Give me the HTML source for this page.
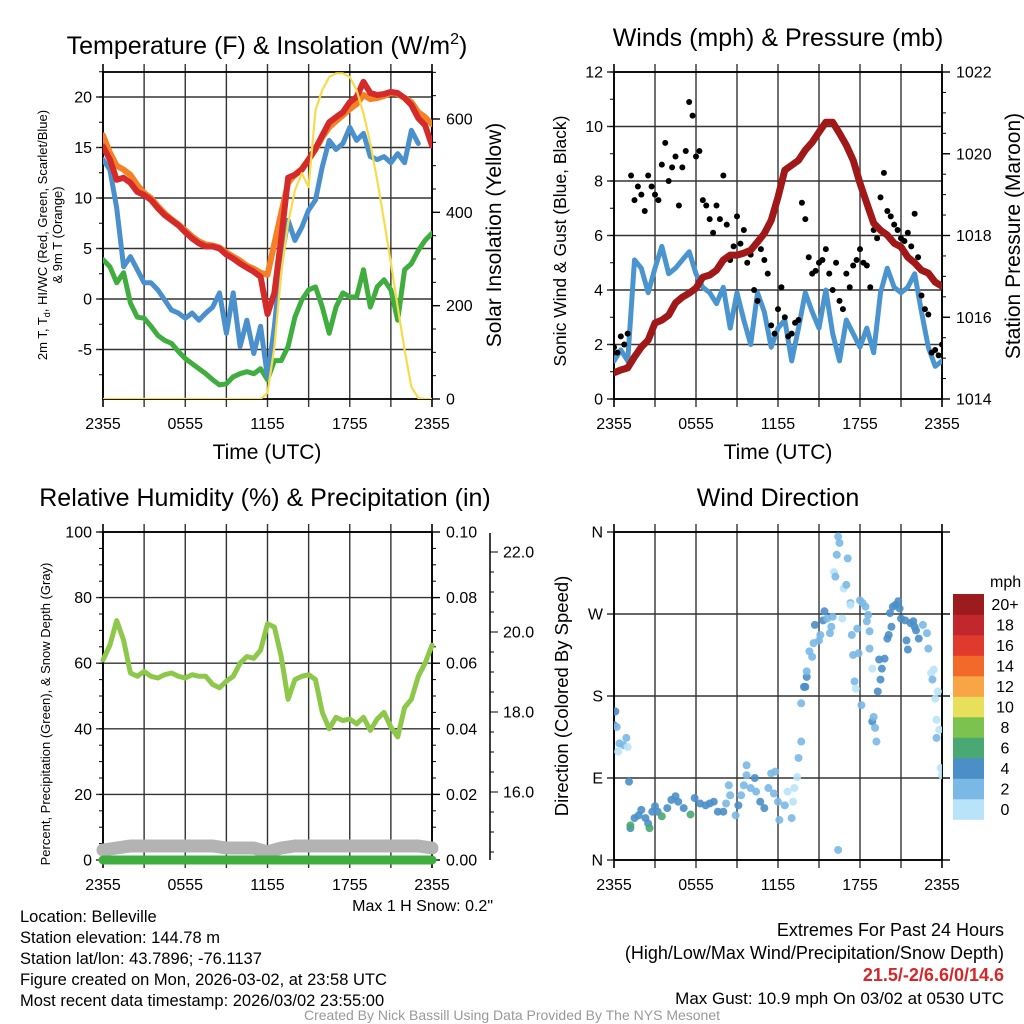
<!DOCTYPE html>
<html><head><meta charset="utf-8">
<style>
body{margin:0;background:#fff;width:1024px;height:1024px;overflow:hidden}
svg{display:block;font-family:"Liberation Sans",Arial,sans-serif}
.t{font-size:16px;fill:#000}
.b{font-size:16.5px;fill:#000}
</style></head><body>
<svg id="c" width="1024" height="1024" viewBox="0 0 1024 1024">
<defs>
<clipPath id="cp1"><rect x="103" y="72" width="329" height="327"/></clipPath>
<clipPath id="cp2"><rect x="614" y="72" width="328" height="327"/></clipPath>
<clipPath id="cp3"><rect x="90" y="532" width="350" height="340"/></clipPath>
<clipPath id="cp4"><rect x="614" y="525" width="328" height="340"/></clipPath>
</defs>
<text x="267" y="54" font-size="25" text-anchor="middle">Temperature (F) &amp; Insolation (W/m<tspan font-size="16" dy="-10">2</tspan><tspan dy="10">)</tspan></text>
<text x="778" y="46" font-size="25" text-anchor="middle">Winds (mph) &amp; Pressure (mb)</text>
<text x="265" y="506" font-size="25" text-anchor="middle">Relative Humidity (%) &amp; Precipitation (in)</text>
<text x="778" y="506" font-size="25" text-anchor="middle">Wind Direction</text>
<text x="267" y="459" font-size="21" text-anchor="middle">Time (UTC)</text>
<text x="778" y="459" font-size="21" text-anchor="middle">Time (UTC)</text>
<g transform="translate(47,235) rotate(-90)">
<text x="0" y="0" font-size="13" text-anchor="middle">2m T, T<tspan font-size="9" dy="3">d</tspan><tspan dy="-3">, HI/WC (Red, Green, Scarlet/Blue)</tspan></text>
<text x="0" y="15" font-size="13" text-anchor="middle">&amp; 9m T (Orange)</text>
</g>
<text transform="translate(501,235) rotate(-90)" font-size="21" text-anchor="middle">Solar Insolation (Yellow)</text>
<text transform="translate(566,241) rotate(-90)" font-size="17.5" text-anchor="middle">Sonic Wind &amp; Gust (Blue, Black)</text>
<text transform="translate(1020,236) rotate(-90)" font-size="21" text-anchor="middle">Station Pressure (Maroon)</text>
<text transform="translate(50,714) rotate(-90)" font-size="13" text-anchor="middle">Percent, Precipitation (Green), &amp; Snow Depth (Gray)</text>
<text transform="translate(568,696) rotate(-90)" font-size="18.5" text-anchor="middle">Direction (Colored By Speed)</text>
<text x="493" y="911" class="t" text-anchor="end">Max 1 H Snow: 0.2"</text>
<g>
<text x="20" y="922" class="b">Location: Belleville</text>
<text x="20" y="943" class="b">Station elevation: 144.78 m</text>
<text x="20" y="964" class="b">Station lat/lon: 43.7896; -76.1137</text>
<text x="20" y="985" class="b">Figure created on Mon, 2026-03-02, at 23:58 UTC</text>
<text x="20" y="1006" class="b">Most recent data timestamp: 2026/03/02 23:55:00</text>
</g>
<text x="1004" y="936" font-size="18" text-anchor="end">Extremes For Past 24 Hours</text>
<text x="1004" y="959" font-size="18" text-anchor="end">(High/Low/Max Wind/Precipitation/Snow Depth)</text>
<text x="1004" y="981" font-size="18" font-weight="bold" fill="#d62728" text-anchor="end">21.5/-2/6.6/0/14.6</text>
<text x="1004" y="1004" font-size="17" text-anchor="end">Max Gust: 10.9 mph On 03/02 at 0530 UTC</text>
<text x="512" y="1020" font-size="14" fill="#999" text-anchor="middle">Created By Nick Bassill Using Data Provided By The NYS Mesonet</text>
<text x="990" y="587" class="t">mph</text>
</svg>
<script>
const timeLabels=['2355','0555','1155','1755','2355'];
const temp2m=[15.1,13.8,11.8,12.0,11.5,10.6,10.3,9.8,9.0,8.3,7.8,7.3,6.6,6.0,5.5,5.2,5.2,5.0,4.4,4.0,3.5,3.1,2.7,2.2,-1.5,0.6,6.0,12.0,12.3,12.8,13.8,14.9,16.2,17.5,18.0,18.5,19.5,20.0,21.5,20.4,20.2,20.3,20.5,20.4,19.9,19.2,17.9,17.2,15.2];
const temp9m=[16.2,14.5,13.2,12.8,12.3,11.3,10.5,10.0,9.2,8.5,7.9,7.4,6.8,6.2,5.7,5.4,5.3,5.1,4.6,4.2,3.8,3.3,3.0,2.6,2.4,5.5,8.5,11.5,12.3,12.9,13.8,14.8,16.0,17.0,17.6,18.2,18.8,19.3,20.2,19.8,19.9,20.1,20.4,20.3,19.9,19.5,18.5,18.0,17.3];
const heatWindChill=[13.8,12.8,9.0,3.2,4.2,2.9,1.6,1.6,0.9,-0.1,-1.1,-1.4,-1.9,-1.4,-2.1,-1.4,-0.8,0.6,-3.4,0.6,-4.7,-2.1,-5.4,-2.7,-7.7,-2.7,3.9,7.8,5.8,7.1,8.8,9.8,13.1,15.7,14.8,15.4,17.0,15.7,16.4,14.1,13.8,14.1,13.5,14.4,13.5,16.7,15.4];
const dewpoint=[3.9,3.2,1.6,2.6,-0.4,-1.8,-1.9,-2.7,-3.6,-4.1,-4.4,-5.2,-5.9,-6.4,-6.9,-7.4,-8.0,-8.5,-8.4,-7.7,-7.4,-7.2,-7.4,-6.9,-8.0,-6.1,-6.1,-4.7,-1.8,-0.1,0.9,1.2,-0.8,-3.4,-0.8,0.6,0.2,0.2,2.9,-0.8,1.2,1.9,0.9,-2.1,2.9,3.5,4.8,5.8,6.5];
const insolation=[0,0,0,0,0,0,0,0,0,0,0,0,0,0,0,0,0,0,0,0,0,0,0,0,13,111,270,377,447,484,454,619,662,690,698,698,690,662,612,548,469,383,291,197,105,26,2,0,0];
const windSpeed=[1.4,1.8,1.4,5.1,4.8,3.9,4.8,5.6,4.6,4.8,5.1,5.4,4.6,4.1,3.9,3.5,4.1,2.6,3.9,2.9,2.0,3.9,3.2,1.9,2.6,2.9,1.4,2.6,3.9,3.2,2.6,4.0,2.4,1.4,2.9,2.4,1.9,2.6,1.7,3.9,4.8,4.1,3.9,4.1,4.6,3.2,1.9,1.2,1.4];
const pressure=[1014.64,1014.71,1014.76,1015.03,1015.27,1015.44,1015.86,1015.93,1016.05,1016.35,1016.49,1016.59,1016.71,1016.98,1017.03,1017.15,1017.40,1017.52,1017.52,1017.57,1017.64,1017.84,1018.05,1018.37,1018.94,1019.60,1019.72,1019.84,1020.09,1020.28,1020.53,1020.77,1020.77,1020.50,1020.21,1019.84,1019.28,1018.79,1018.30,1018.13,1018.01,1017.81,1017.72,1017.47,1017.33,1017.15,1017.08,1016.86,1016.76];
const gusts=[1.9,1.7,2.3,2.0,2.4,8.2,7.3,7.8,7.5,6.9,8.2,7.8,7.5,7.3,8.6,9.4,8.0,8.5,8.9,7.1,8.5,9.1,10.9,10.4,8.9,9.1,7.3,7.1,6.6,6.1,7.1,6.6,8.2,6.4,5.1,5.6,6.7,5.7,6.2,5.0,5.3,4.0,3.6,5.5,5.1,4.6,2.7,2.4,3.3,4.1,3.0,2.3,2.4,2.8,2.9,7.2,6.6,5.2,4.6,4.7,5.0,5.1,5.5,4.6,4.0,5.0,3.6,3.3,4.6,4.1,4.9,5.1,5.5,5.0,4.9,4.1,6.2,5.9,7.4,8.3,6.9,6.7,6.4,6.2,5.9,5.8,6.1,5.6,6.8,5.2,3.8,3.3,3.1,1.7,1.8,1.6,2.0];
const relHumidity=[61,65.5,73,67,57,56,57.5,56,55.5,56.5,57,56,55.5,56.5,56,56,53.5,52.5,54.5,56,60,62,61.5,64,72,71,62,49,55,56,56.5,55,45,40,43.5,42.5,43,41.5,43.5,39.5,43,45,40.5,37.5,46.5,49,56,60,65.5];
const precip=[0,0,0,0,0,0,0,0,0,0,0,0,0,0,0,0,0,0,0,0,0,0,0,0,0];
const snowDepth=[14.55,14.6,14.65,14.65,14.65,14.65,14.65,14.65,14.65,14.6,14.6,14.6,14.5,14.6,14.65,14.65,14.65,14.65,14.65,14.65,14.65,14.65,14.65,14.65,14.6];
const dirHour=[0.1,0.0,0.2,0.4,0.3,0.7,0.9,1.0,1.1,1.2,1.2,1.5,1.8,2.0,2.3,2.5,2.6,2.8,3.0,3.2,3.5,3.9,4.2,4.5,4.7,5.1,5.6,5.9,6.3,6.7,7.0,7.3,7.6,8.0,8.2,8.4,8.5,8.9,9.1,9.3,9.5,9.7,9.7,10.0,10.3,10.4,10.7,11.0,11.3,11.5,11.8,11.7,12.0,12.1,12.5,12.7,13.0,13.1,13.2,13.4,13.5,13.7,13.7,13.9,14.0,14.1,14.1,14.3,14.5,14.6,14.7,15.0,15.1,15.3,15.4,15.6,15.8,15.9,16.0,16.1,16.2,16.3,16.4,16.5,16.8,17.0,16.7,17.1,17.3,17.3,17.4,17.5,17.6,17.7,17.8,17.9,18.0,18.1,18.2,18.4,18.5,18.6,18.7,18.7,18.9,18.9,19.0,19.1,19.2,19.3,19.4,19.5,19.6,19.8,20.0,20.1,20.2,20.3,20.4,20.6,20.8,20.9,21.0,21.3,21.4,21.5,21.7,21.9,22.0,22.1,22.3,22.6,22.9,23.0,23.2,23.3,23.4,23.5,23.6,23.7,23.6,23.8,23.9,24.0,16.4];
const dirDeg=[163,148,146,128,119,126,134,124,86,35,38,46,49,55,46,40,35,53,59,53,48,57,66,70,64,57,50,68,62,60,62,64,53,53,62,82,71,49,60,71,82,104,93,79,90,75,64,57,79,95,97,73,64,44,60,75,46,64,79,91,112,130,172,190,190,201,207,229,223,238,258,241,247,263,273,265,249,256,267,316,311,335,355,348,298,302,265,331,282,280,247,225,196,188,254,227,285,170,282,278,262,269,251,232,210,152,157,145,130,185,220,198,210,221,243,247,271,256,278,280,284,276,265,263,241,231,260,262,256,252,243,258,249,232,205,198,209,177,154,185,134,143,101,93,11];
const dirSpeed=[5,5,3,3,1,3,3,1,5,5,7,5,5,5,5,5,7,5,5,5,7,5,5,5,5,5,7,5,5,5,5,5,5,5,3,3,3,3,5,3,3,3,3,3,5,3,5,5,3,3,3,3,3,3,3,1,3,1,1,1,3,3,3,5,5,5,3,3,3,3,5,3,3,5,5,3,3,3,3,1,3,3,3,3,1,3,1,3,3,1,3,3,3,1,3,3,3,3,3,3,3,3,3,3,1,5,3,3,3,5,5,5,5,5,5,5,5,5,5,5,5,5,5,5,5,5,5,5,5,5,5,3,3,3,1,3,1,1,1,1,3,1,1,1,3];
const speedLabels=['0','2','4','6','8','10','12','14','16','18','20+'];
const speedColors=['#b9e3f9','#7ab8e6','#4a8fc8','#4aa872','#7cc24e','#e8e05a','#f7a545','#f26a2a','#e03a2f','#c1272d','#9b1b1e'];

const NS='http://www.w3.org/2000/svg';
const svg=document.getElementById('c');
function mk(tag,a,parent){const e=document.createElementNS(NS,tag);for(const k in a)e.setAttribute(k,a[k]);(parent||svg).appendChild(e);return e;}
const P1={x0:103,x1:432,y0:72,y1:399},P2={x0:614,x1:942,y0:72,y1:399},P3={x0:103,x1:432,y0:532,y1:860},P4={x0:614,x1:942,y0:532,y1:860};
function xs(P){return h=>P.x0+h*(P.x1-P.x0)/24;}
function lin(d0,d1,r0,r1){return v=>r0+(v-d0)*(r1-r0)/(d1-d0);}
const yT=lin(0,20,299,97), yI=lin(0,600,399,119);
const yW=lin(0,12,399,72), yP=lin(1014,1022,399,72);
const yRH=lin(0,100,860,532), yPr=lin(0,0.1,860,532), ySn=lin(16,22,792,552);
const yD=lin(0,360,860,532);

function frame(P,name,hTicks,vFn,vMinor,lbl,rightTicks,rightMinor,rFn,rLbl){
  const g=mk('g',{});
  
  
  const X=xs(P);
  for(let h=3;h<24;h+=3){const l=mk('line',{x1:X(h),x2:X(h),y1:P.y0-8,y2:P.y1+8,stroke:'#333','stroke-width':1.4},g);
    
    }
  [0,24].forEach(h=>{const l=mk('line',{x1:X(h),x2:X(h),y1:P.y0-8,y2:P.y1+8,stroke:'#000','stroke-width':1.6},g);
    
    });
  hTicks.forEach(v=>{const y=vFn(v);
    const l=mk('line',{x1:P.x0-7,x2:P.x1,y1:y,y2:y,stroke:'#333','stroke-width':1.4},g);
    
    
    const t=mk('text',{x:P.x0-11,y:y+5.5,'text-anchor':'end',class:'t'},g);t.textContent=lbl(v);
    
    });
  vMinor.forEach(v=>{const y=vFn(v);const l=mk('line',{x1:P.x0-4,x2:P.x0,y1:y,y2:y,stroke:'#000','stroke-width':1},g);
    
    });
  if(rightTicks){rightTicks.forEach(v=>{const y=rFn(v);
    const l=mk('line',{x1:P.x1,x2:P.x1+8,y1:y,y2:y,stroke:'#000','stroke-width':1.4},g);
    
    
    const t=mk('text',{x:P.x1+14,y:y+5.5,class:'t'},g);t.textContent=rLbl(v);
    
    });
   rightMinor.forEach(v=>{const y=rFn(v);const l=mk('line',{x1:P.x1,x2:P.x1+4,y1:y,y2:y,stroke:'#000','stroke-width':1},g);
    
    });}
  const r=mk('rect',{x:P.x0,y:P.y0,width:P.x1-P.x0,height:P.y1-P.y0,fill:'none',stroke:'#000','stroke-width':1.8},g);
  
  
  timeLabels.forEach((s,i)=>{const t=mk('text',{x:X(i*6),y:P.y1+30,'text-anchor':'middle',class:'t'},g);t.textContent=s;
    
    });
}
function rng(a,b,s){const r=[];for(let v=a;v<=b+1e-9;v+=s)r.push(+v.toFixed(4));return r;}
frame(P1,'temperature',[-5,0,5,10,15,20],yT,rng(-7.5,22.5,2.5),v=>String(v),[0,200,400,600],rng(0,700,50),yI,v=>String(v));
frame(P2,'winds',[0,2,4,6,8,10,12],yW,rng(0,12,1),v=>String(v),[1014,1016,1018,1020,1022],rng(1014,1022,0.5),yP,v=>String(v));
frame(P3,'humidity',[0,20,40,60,80,100],yRH,rng(0,100,5),v=>String(v),[0,0.02,0.04,0.06,0.08,0.1],rng(0,0.1,0.005),yPr,v=>v.toFixed(2));
frame(P4,'direction',[0,90,180,270,360],yD,[],v=>['N','E','S','W','N'][v/90],[0,90,180,270,360],[],yD,v=>'');

const sg=mk('g',{});


mk('line',{x1:490,x2:490,y1:533,y2:860,stroke:'#000','stroke-width':1.5},sg);
rng(14,22.5,0.5).forEach(v=>{const y=ySn(v);if(y<534||y>860)return;const maj=Math.abs(v-Math.round(v/2)*2)<1e-6;
  mk('line',{x1:490,x2:maj?498:494,y1:y,y2:y,stroke:'#000','stroke-width':1},sg);
  if(maj&&v>=16){const t=mk('text',{x:503,y:y+5.5,class:'t'},sg);t.textContent=v.toFixed(1);
    
    }});

function line(P,vals,yF,step,color,w,name,clip){
  const X=xs(P);const pts=vals.map((v,i)=>X(i*step).toFixed(1)+','+yF(v).toFixed(1)).join(' ');
  const e=mk('polyline',{points:pts,fill:'none',stroke:color,'stroke-width':w,'stroke-linejoin':'round','stroke-linecap':'round','clip-path':'url(#'+clip+')'});
  return e;}
let e;
e=line(P1,dewpoint,yT,0.5,'#3fae3f',5,'dewpoint','cp1');


e=line(P1,heatWindChill,yT,0.5,'#4a90cc',5,'hiwc','cp1');


e=line(P1,temp9m,yT,0.5,'#f58025',6,'t9','cp1');


e=line(P1,temp2m,yT,0.5,'#d42a2a',6,'t2','cp1');


e=line(P1,insolation,yI,0.5,'#f7dc4a',2.2,'insol','cp1');



e=line(P2,windSpeed,yW,0.5,'#4a95d0',5,'wind','cp2');


const X2=xs(P2);
const gg=mk('g',{'clip-path':'url(#cp2)'});


gusts.forEach((v,i)=>{const c=mk('circle',{cx:X2(i*0.25),cy:yW(v),r:3,fill:'#000'},gg);
  
  });
e=line(P2,pressure,yP,0.5,'#a01818',7,'pres','cp2');



e=line(P3,snowDepth,ySn,1,'#b3b3b3',13,'snow','cp3');


e=line(P3,precip,yPr,1,'#3fae3f',9,'precip','cp3');


e=line(P3,relHumidity,yRH,0.5,'#8dc84a',5,'rh','cp3');



const X4=xs(P4);
const dg=mk('g',{'clip-path':'url(#cp4)'});


dirHour.forEach((h,i)=>{const ci=Math.min(10,Math.floor(dirSpeed[i]/2));
  const c=mk('circle',{cx:X4(h),cy:yD(dirDeg[i]),r:4,fill:speedColors[ci],'fill-opacity':0.9},dg);
  
  });

const cb=mk('g',{});


speedLabels.forEach((s,i)=>{const top=799-i*20.5;
  const r=mk('rect',{x:953,y:top,width:31,height:20.8,fill:speedColors[i]},cb);
  
  
  const t=mk('text',{x:1005,y:top+16,'text-anchor':'middle',class:'t'},cb);t.textContent=s;
  
  });
</script>
</body></html>
